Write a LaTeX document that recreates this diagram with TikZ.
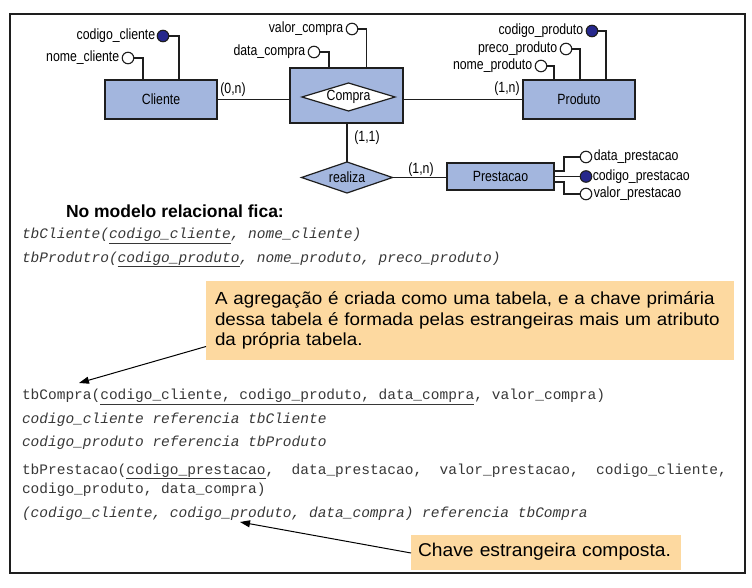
\documentclass[tikz,border=0pt]{standalone}
\usepackage{fontspec}
\setmainfont{Liberation Sans}
\setmonofont{Liberation Mono}
\newfontfamily\erfont{Liberation Sans}[FakeStretch=0.83]
\newfontfamily\notefontA{Liberation Sans}[FakeStretch=1.075]
\newfontfamily\notefontB{Liberation Sans}[FakeStretch=1.04]
\usetikzlibrary{shapes.geometric,arrows.meta,calc}
\definecolor{erblue}{RGB}{163,182,222}
\definecolor{keyblue}{RGB}{38,40,140}
\definecolor{notefill}{RGB}{253,217,160}
\definecolor{codegray}{RGB}{55,55,55}
\definecolor{linegray}{RGB}{30,30,30}
\begin{document}
\begin{tikzpicture}[x=1pt,y=-1pt,
  every node/.style={inner sep=0pt, outer sep=0pt},
  erfnt/.style={font=\erfont\fontsize{14.8}{16}\selectfont},
  entity/.style={erfnt, draw=linegray, line width=1.2pt, fill=erblue, minimum width=112pt, minimum height=39pt},
  reldiam/.style={erfnt, diamond, aspect=3.2, draw=linegray, line width=1.2pt},
  attr/.style={circle, draw=linegray, line width=1.1pt, fill=white, minimum size=11.5pt},
  keyattr/.style={attr, fill=keyblue},
  attrtxt/.style={erfnt},
  conn/.style={draw=linegray, line width=1.2pt},
  code/.style={anchor=base west, text=codegray, font=\ttfamily\fontsize{14.5}{16}\selectfont},
  codeit/.style={code, font=\ttfamily\itshape\fontsize{14.5}{16}\selectfont},
  note/.style={fill=notefill, align=left, anchor=north west, inner xsep=9pt},
  pointer/.style={draw=black, line width=1pt, -{Triangle[length=10pt,width=7pt]}}
]
\useasboundingbox (0,0) rectangle (752,588);
\draw[line width=1.4pt, draw=linegray] (10,14) rectangle (745,573);

% entities
\node[entity] (cliente) at (161,99.5) {Cliente};
\node[entity, minimum width=113pt, minimum height=55pt] (compra) at (346.5,95.5) {};
\node[reldiam, fill=white, minimum width=93pt, minimum height=28pt] (compradiam) at (348.5,97) {Compra};
\node[entity] (produto) at (579,99.5) {Produto};
\node[reldiam, fill=erblue, minimum width=91pt, minimum height=31pt] (realiza) at (347,177.5) {realiza};
\node[entity, minimum width=107pt, minimum height=27pt] (prest) at (500.5,176.5) {Prestacao};

% relationships
\draw[conn] (cliente.east) -- (cliente.east -| compra.west);
\draw[conn] (produto.west -| compra.east) -- (produto.west);
\draw[conn] (compra.south -| realiza.north) -- (realiza.north);
\draw[conn] (realiza.east) -- (realiza.east -| prest.west);

% cardinalities
\node[erfnt] (c1) at (233,90) {(0,n)};
\node[erfnt] (c2) at (507,89) {(1,n)};
\node[erfnt] (c3) at (367,138) {(1,1)};
\node[erfnt] (c4) at (421,170) {(1,n)};

% Cliente attributes
\node[keyattr] (cc) at (163,36) {};
\node[attr] (nc) at (128,58) {};
\node[attrtxt, anchor=east] (ccl) at ([xshift=-2pt]cc.west) {codigo\_cliente};
\node[attrtxt, anchor=east] (ncl) at ([xshift=-3pt]nc.west) {nome\_cliente};
\draw[conn] (cc.east) -| ([xshift=18pt]cliente.north);
\draw[conn] (nc.east) -| ([xshift=-18pt]cliente.north);

% Compra attributes
\node[attr] (vc) at (352,29) {};
\node[attr] (dc) at (314,52) {};
\node[attrtxt, anchor=east] (vcl) at ([xshift=-3pt]vc.west) {valor\_compra};
\node[attrtxt, anchor=east] (dcl) at ([xshift=-3pt]dc.west) {data\_compra};
\draw[conn] (vc.east) -| ([xshift=20pt]compra.north);
\draw[conn] (dc.east) -| ([xshift=-17.5pt]compra.north);

% Produto attributes
\node[keyattr] (cp) at (592,31) {};
\node[attr] (pp) at (566,49) {};
\node[attr] (np) at (541,66) {};
\node[attrtxt, anchor=east] (cpl) at ([xshift=-3pt]cp.west) {codigo\_produto};
\node[attrtxt, anchor=east] (ppl) at ([xshift=-3pt]pp.west) {preco\_produto};
\node[attrtxt, anchor=east] (npl) at ([xshift=-3pt]np.west) {nome\_produto};
\draw[conn] (cp.east) -| ([xshift=27pt]produto.north);
\draw[conn] (pp.east) -| ([xshift=1pt]produto.north);
\draw[conn] (np.east) -| ([xshift=-25pt]produto.north);

% Prestacao attributes
\node[attr] (dp) at (586,157) {};
\node[keyattr] (kp) at (586,176.5) {};
\node[attr] (vp) at (586,194) {};
\node[attrtxt, anchor=west] (dpl) at ([xshift=2pt]dp.east) {data\_prestacao};
\node[attrtxt, anchor=west] (kpl) at ([xshift=1pt]kp.east) {codigo\_prestacao};
\node[attrtxt, anchor=west] (vpl) at ([xshift=2pt]vp.east) {valor\_prestacao};
\draw[conn] ([yshift=5.5pt]prest.east) -- ++(10,0) |- (dp.west);
\draw[conn] (prest.east) -- (kp.west);
\draw[conn] ([yshift=-5.5pt]prest.east) -- ++(10,0) |- (vp.west);

% relational model text
\node[anchor=base west, font=\bfseries\fontsize{17.5}{20}\selectfont] (title) at (66,218) {No modelo relacional fica:};
\node[codeit] (l1) at (22,238.5) {tbCliente(\underline{codigo\_cliente}, nome\_cliente)};
\node[codeit] (l2) at (22,262) {tbProdutro(\underline{codigo\_produto}, nome\_produto, preco\_produto)};
\node[code] (l3) at (22,399.5) {tbCompra(\underline{codigo\_cliente, codigo\_produto, data\_compra}, valor\_compra)};
\node[codeit] (l4) at (22,423) {codigo\_cliente referencia tbCliente};
\node[codeit] (l5) at (22,446) {codigo\_produto referencia tbProduto};
\node[code] (l6) at (22,474) {tbPrestacao(\underline{codigo\_prestacao},\ \ data\_prestacao,\ \ valor\_prestacao,\ \ codigo\_cliente,};
\node[code] (l7) at (22,493.5) {codigo\_produto, data\_compra)};
\node[codeit] (l8) at (22,517) {(codigo\_cliente, codigo\_produto, data\_compra) referencia tbCompra};

% callouts
\node[note, font=\notefontA\fontsize{17.5}{20.8}\selectfont, minimum width=528pt, minimum height=79pt, text width=510pt] (n1) at (206,281) {A agregação é criada como uma tabela, e a chave primária\\dessa tabela é formada pelas estrangeiras mais um atributo\\da própria tabela.};
\node[note, font=\notefontB\fontsize{18.5}{22}\selectfont, inner xsep=7pt, minimum width=270pt, minimum height=35pt, text width=256pt] (n2) at (411,534.5) {Chave estrangeira composta.};
\coordinate (t1) at (79,383);
\coordinate (t2) at (240,522);
\draw[pointer] ([yshift=-26pt]n1.west) -- (t1);
\draw[pointer] ([yshift=-1pt]n2.west) -- (t2);
\end{tikzpicture}
\end{document}
